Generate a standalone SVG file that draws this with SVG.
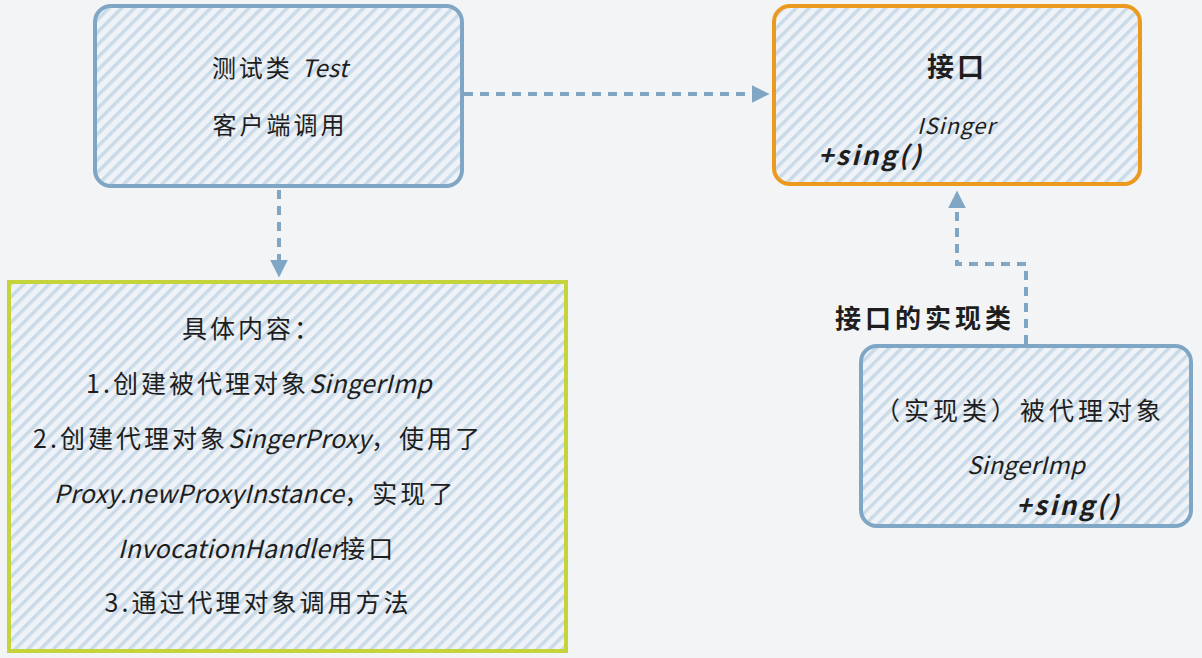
<svg xmlns="http://www.w3.org/2000/svg" width="1202" height="658" viewBox="0 0 1202 658">
<style>
.t{font-family:"Noto Sans CJK SC","Noto Sans",sans-serif;fill:#1e1e1e;font-size:25px;letter-spacing:3px}
.i{font-style:italic;letter-spacing:0.3px}
.b{font-weight:bold}
.pm{font-size:26px;letter-spacing:2.5px}
.blue{fill:url(#hatch);stroke:#7fa6c5;stroke-width:4}
.conn{fill:none;stroke:#7fa6c5;stroke-width:4;stroke-dasharray:9 7}
</style>
<defs>
<pattern id="hatch" patternUnits="userSpaceOnUse" width="9" height="9" patternTransform="rotate(45)">
<rect width="9" height="9" fill="#eff2f6"/>
<rect width="3.5" height="9" fill="#c9dbe8"/>
</pattern>
<marker id="arr" viewBox="0 0 10 10" refX="8" refY="5" markerWidth="4.5" markerHeight="4.5" orient="auto">
<path d="M0,0 L10,5 L0,10 z" fill="#7fa6c5"/>
</marker>
</defs>
<rect width="1202" height="658" fill="#f3f4f6"/>
<g id="connectors">
<path class="conn" d="M464,94 L766,94" marker-end="url(#arr)"/>
<path class="conn" d="M279,190 L279,274" marker-end="url(#arr)"/>
<path class="conn" d="M1026,344 L1026,264 L957,264 L957,194" marker-end="url(#arr)"/>
</g>
<g id="test">
<rect class="blue" x="95" y="6" width="367" height="180" rx="16"/>
<text class="t" x="280" y="77" text-anchor="middle" style="font-size:24px">测试类 <tspan class="i">Test</tspan></text>
<text class="t" x="280" y="134" text-anchor="middle" style="font-size:24px">客户端调用</text>
</g>
<g id="isinger">
<rect x="774" y="6" width="366" height="178" rx="16" fill="url(#hatch)" stroke="#eb9a1f" stroke-width="4"/>
<text class="t" x="957" y="77" text-anchor="middle" style="font-size:27px" font-weight="bold">接口</text>
<text class="t i" x="917" y="134" style="font-size:22px;letter-spacing:1px">ISinger</text>
<text class="t i b pm" x="818" y="165">+sing()</text>
</g>
<g id="content">
<rect x="9" y="282" width="557" height="369" fill="url(#hatch)" stroke="#c6d43c" stroke-width="4"/>
<text class="t" x="252" y="338" text-anchor="middle">具体内容：</text>
<text class="t" x="259" y="393" text-anchor="middle">1.创建被代理对象<tspan class="i">SingerImp</tspan></text>
<text class="t" x="258" y="448" text-anchor="middle">2.创建代理对象<tspan class="i">SingerProxy</tspan>，使用了</text>
<text class="t" x="255" y="503" text-anchor="middle"><tspan class="i">Proxy.newProxyInstance</tspan>，实现了</text>
<text class="t" x="257" y="558" text-anchor="middle"><tspan class="i">InvocationHandler</tspan>接口</text>
<text class="t" x="258" y="612" text-anchor="middle">3.通过代理对象调用方法</text>
</g>
<g id="label">
<text class="t b" x="835" y="328" style="font-size:26px;letter-spacing:4px">接口的实现类</text>
</g>
<g id="singerimp">
<rect class="blue" x="861" y="346" width="330" height="180" rx="16"/>
<text class="t" x="1020" y="420" text-anchor="middle" style="letter-spacing:4px">（实现类）被代理对象</text>
<text class="t i" x="1026" y="474" text-anchor="middle" style="font-size:24px">SingerImp</text>
<text class="t i b pm" x="1016" y="515">+sing()</text>
</g>
</svg>
